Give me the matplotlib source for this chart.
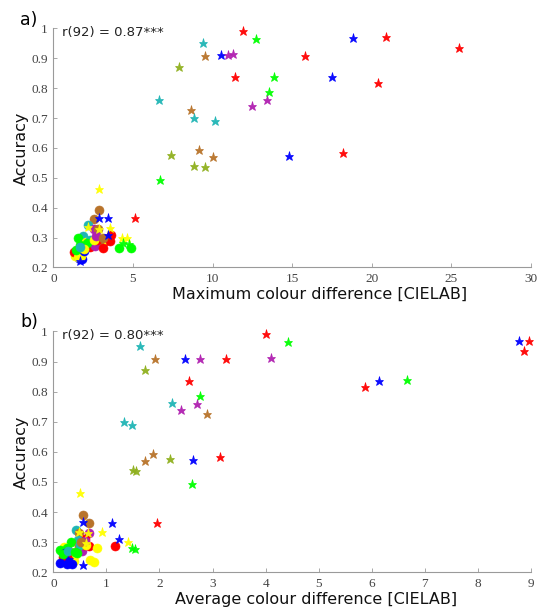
import matplotlib
matplotlib.use("Agg")
import matplotlib.pyplot as plt

# ---------------- data ----------------
palette = {
    "red": "#ff0000", "green": "#00ff00", "blue": "#0000ff",
    "cyan": "#1fb5b5", "magenta": "#b01fb0", "brown": "#b8732a",
    "olive": "#8fb01e", "yellow": "#ffff00",
}

star_colors = ["red", "green", "blue", "red", "red", "cyan", "brown", "blue",
               "magenta", "magenta", "red", "olive", "red", "green", "blue",
               "red", "green", "magenta", "magenta", "cyan", "brown", "cyan",
               "cyan", "olive", "brown", "brown", "olive", "olive", "green",
               "blue", "red", "yellow", "blue", "blue", "red", "yellow",
               "yellow", "yellow", "blue", "yellow", "yellow", "green",
               "green", "blue"]
star_acc = [0.993, 0.965, 0.968, 0.970, 0.935, 0.953, 0.909, 0.910,
            0.910, 0.913, 0.909, 0.871, 0.836, 0.838, 0.836, 0.816,
            0.787, 0.760, 0.740, 0.762, 0.727, 0.700, 0.689, 0.578,
            0.592, 0.570, 0.540, 0.537, 0.493, 0.573, 0.583, 0.463,
            0.367, 0.365, 0.365, 0.333, 0.335, 0.330, 0.310, 0.300,
            0.298, 0.282, 0.279, 0.223]
star_max = [11.9, 12.7, 18.8, 20.9, 25.5, 9.4, 9.5, 10.5,
            10.95, 11.3, 15.8, 7.9, 11.4, 13.85, 17.5, 20.4,
            13.55, 13.4, 12.5, 6.62, 8.66, 8.83, 10.15, 7.4,
            9.15, 10.03, 8.85, 9.5, 6.67, 14.8, 18.2, 2.85,
            2.9, 3.44, 5.1, 3.54, 2.2, 2.85, 3.44, 4.32,
            4.6, 4.38, 4.74, 1.7]
star_avg = [4.0, 4.43, 8.78, 8.97, 8.87, 1.64, 1.92, 2.48,
            2.77, 4.11, 3.26, 1.72, 2.55, 6.67, 6.14, 5.87,
            2.77, 2.70, 2.40, 2.23, 2.89, 1.33, 1.49, 2.19,
            1.87, 1.72, 1.50, 1.56, 2.61, 2.64, 3.14, 0.51,
            0.56, 1.11, 1.96, 0.91, 0.49, 0.65, 1.24, 1.40,
            0.62, 1.49, 1.54, 0.56]

circ_colors = ["brown", "brown", "cyan", "magenta", "brown", "red", "cyan",
               "red", "red", "green", "yellow", "yellow", "green", "yellow",
               "red", "blue", "red", "brown", "magenta", "blue", "blue",
               "yellow", "yellow", "red", "cyan", "blue", "green", "yellow",
               "magenta", "brown", "blue", "green", "red", "yellow", "cyan",
               "green", "green"]
circ_acc = [0.391, 0.363, 0.341, 0.330, 0.329, 0.310, 0.306, 0.288,
            0.287, 0.300, 0.284, 0.280, 0.275, 0.238, 0.251, 0.232,
            0.268, 0.289, 0.271, 0.229, 0.229, 0.240, 0.234, 0.292,
            0.292, 0.255, 0.282, 0.292, 0.305, 0.300, 0.265, 0.260,
            0.265, 0.262, 0.270, 0.266, 0.265]
circ_max = [2.90, 2.58, 2.18, 2.54, 2.80, 3.65, 1.87, 3.55,
            3.23, 1.55, 2.03, 3.00, 1.65, 1.34, 1.28, 1.59,
            2.33, 2.90, 2.60, 1.65, 1.80, 1.75, 1.55, 2.75,
            2.30, 1.90, 2.10, 2.55, 2.65, 3.10, 1.75, 1.45,
            3.10, 1.95, 1.70, 4.10, 4.85]
circ_avg = [0.55, 0.68, 0.42, 0.67, 0.48, 0.59, 0.46, 1.17,
            0.68, 0.33, 0.20, 0.83, 0.13, 0.39, 0.19, 0.12,
            0.30, 0.48, 0.54, 0.26, 0.35, 0.69, 0.76, 0.58,
            0.50, 0.30, 0.25, 0.62, 0.60, 0.52, 0.22, 0.18,
            0.36, 0.42, 0.28, 0.40, 0.44]

panels = [
    dict(tag="a)", r="r(92) = 0.87***", xs=star_max, xc=circ_max,
         xlim=(0, 30), xticks=[0, 5, 10, 15, 20, 25, 30],
         xlabel="Maximum colour difference [CIELAB]", xlab_x=0.558,
         tag_y=1.035, rect=[0.0982, 0.5615, 0.8797, 0.3918]),
    dict(tag="b)", r="r(92) = 0.80***", xs=star_avg, xc=circ_avg,
         xlim=(0, 9), xticks=list(range(10)),
         xlabel="Average colour difference [CIELAB]", xlab_x=0.55,
         tag_y=1.04, rect=[0.0982, 0.0618, 0.8797, 0.3948]),
]
yticks = [0.2, 0.3, 0.4, 0.5, 0.6, 0.7, 0.8, 0.9, 1.0]
ytick_labels = ["0.2", "0.3", "0.4", "0.5", "0.6", "0.7", "0.8", "0.9", "1"]

# ---------------- plot ----------------
fig = plt.figure(figsize=(5.43, 6.10), dpi=100)
serif = "Liberation Serif"
spine_col = "#9a9a9a"

for p in panels:
    ax = fig.add_axes(p["rect"])
    for c, x, y in zip(circ_colors, p["xc"], circ_acc):
        ax.plot(x, y, "o", ms=6.5, color=palette[c], mec=palette[c],
                mew=0.4, clip_on=False)
    for c, x, y in zip(star_colors, p["xs"], star_acc):
        ax.plot(x, y, "*", ms=6.8, color=palette[c], mec=palette[c],
                mew=0.5, alpha=0.95, clip_on=False)
    ax.set_xlim(*p["xlim"])
    ax.set_ylim(0.2, 1.0)
    ax.set_xticks(p["xticks"])
    ax.set_yticks(yticks)
    ax.set_yticklabels(ytick_labels)
    for s in ["top", "right"]:
        ax.spines[s].set_visible(False)
    for s in ["left", "bottom"]:
        ax.spines[s].set_color(spine_col)
        ax.spines[s].set_linewidth(0.8)
    ax.tick_params(direction="in", length=3, width=0.6, color=spine_col,
                   labelsize=9.5, labelcolor="#444444", pad=4)
    for lab in ax.get_xticklabels() + ax.get_yticklabels():
        lab.set_fontfamily(serif)
    ax.set_xlabel(p["xlabel"], fontsize=11.5, fontfamily="DejaVu Sans",
                  color="#111111")
    ax.xaxis.set_label_coords(p["xlab_x"], -0.082)
    ax.set_ylabel("Accuracy", fontsize=11.5, fontfamily="DejaVu Sans",
                  color="#111111")
    ax.yaxis.set_label_coords(-0.052, 0.5)
    ax.text(0.018, 1.01, p["r"], transform=ax.transAxes, ha="left",
            va="top", fontsize=9.5, fontfamily="DejaVu Sans", color="#222222")
    ax.text(-0.051, p["tag_y"], p["tag"], transform=ax.transAxes, ha="center",
            va="center", fontsize=12.5, fontfamily="DejaVu Sans")

fig.savefig("out.png", dpi=100)
